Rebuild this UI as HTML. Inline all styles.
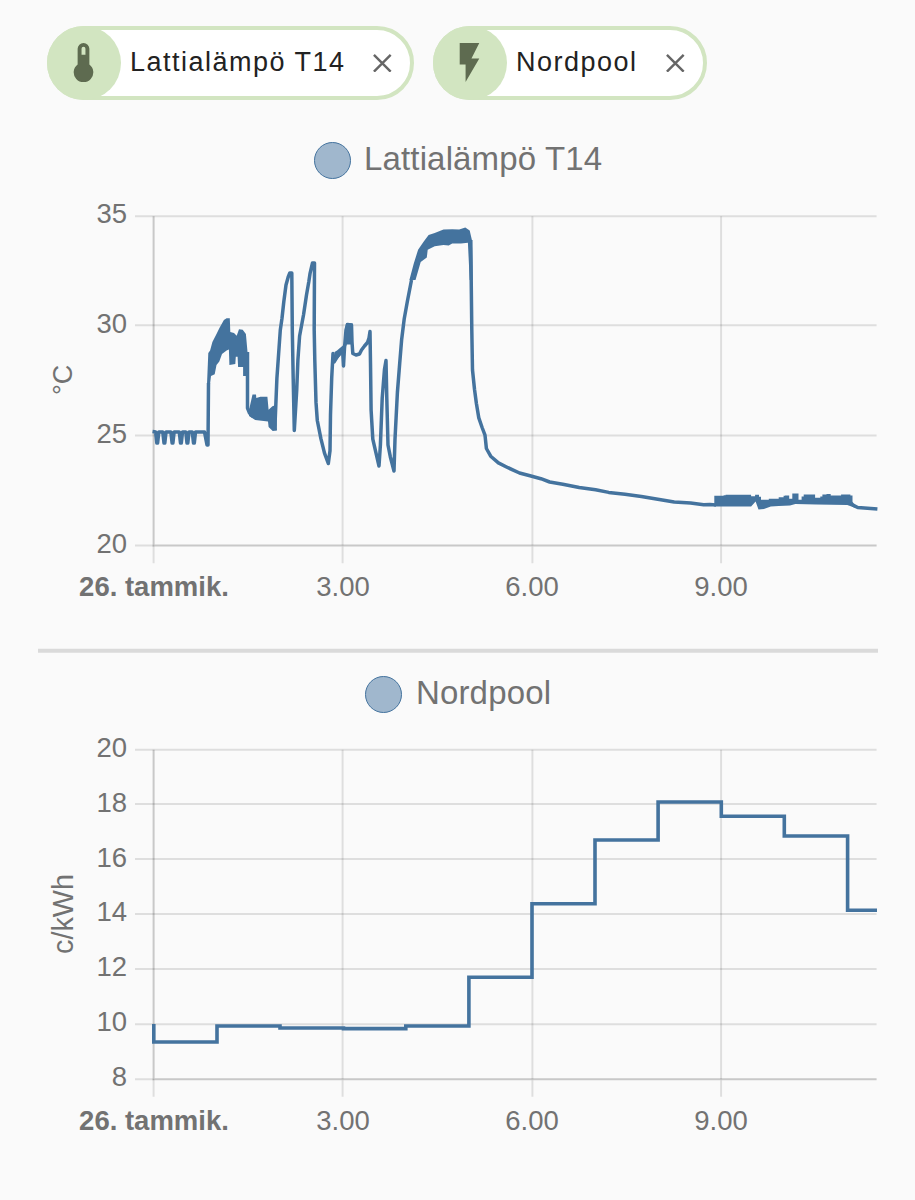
<!DOCTYPE html>
<html><head><meta charset="utf-8">
<style>
html,body{margin:0;padding:0;width:915px;height:1200px;overflow:hidden;background:#fafafa;font-family:"Liberation Sans",sans-serif;}
.chip{position:absolute;top:25.5px;height:74.5px;box-sizing:border-box;border:4px solid #d2e5c1;border-radius:38px;background:#fff;}
.chip .ic{position:absolute;left:-4px;top:-4px;width:74.3px;height:74.5px;border-radius:50%;background:#d2e5c1;}
.chip .ic svg{position:absolute;left:13.3px;top:13.8px;width:47px;height:47px;}
.chip .t{position:absolute;top:15.3px;font-size:27px;letter-spacing:1.5px;color:#222;line-height:35px;white-space:nowrap;}
.chip .x{position:absolute;top:24px;width:18.6px;height:18.6px;}
.lbl{position:absolute;font-size:27.5px;color:#727272;line-height:32px;white-space:nowrap;}
.yl{text-align:right;width:60px;}
.xl{text-align:center;width:200px;}
.leg{position:absolute;font-size:33px;letter-spacing:0.15px;color:#727272;line-height:38px;white-space:nowrap;}
.dot{position:absolute;width:37px;height:37px;box-sizing:border-box;border-radius:50%;background:#a0b7cd;border:1.8px solid #44739e;}
.rot{position:absolute;font-size:28px;color:#727272;line-height:32px;white-space:nowrap;transform:rotate(-90deg);transform-origin:0 0;}
svg.ov{position:absolute;left:0;top:0;}
</style></head><body>

<!-- chips -->
<div class="chip" style="left:47px;width:367px;">
  <div class="ic"><svg viewBox="0 0 24 24"><path fill="#5e6b50" d="M15 13V5A3 3 0 0 0 9 5V13A5 5 0 1 0 15 13M12 4A1 1 0 0 1 13 5V8H11V5A1 1 0 0 1 12 4Z"/></svg></div>
  <div class="t" style="left:79px;">Lattialämpö T14</div>
  <svg class="x" style="left:322px;" viewBox="0 0 20 20"><path d="M1 1L19 19M19 1L1 19" stroke="#666" stroke-width="2.6"/></svg>
</div>
<div class="chip" style="left:433px;width:274px;">
  <div class="ic"><svg viewBox="0 0 24 24"><path fill="#5e6b50" d="M7,2V13H10V22L17,10H13L17,2H7Z"/></svg></div>
  <div class="t" style="left:79px;">Nordpool</div>
  <svg class="x" style="left:229px;" viewBox="0 0 20 20"><path d="M1 1L19 19M19 1L1 19" stroke="#666" stroke-width="2.6"/></svg>
</div>

<!-- legends -->
<div class="dot" style="left:313.7px;top:142.2px;"></div>
<div class="leg" style="left:364px;top:140px;">Lattialämpö T14</div>
<div class="dot" style="left:365.2px;top:675.7px;"></div>
<div class="leg" style="left:416px;top:674px;">Nordpool</div>

<svg class="ov" width="915" height="1200" viewBox="0 0 915 1200">
  <g fill="none" stroke-width="2">
    <g stroke="rgba(0,0,0,0.11)">
    <path d="M135 216.2H876.6M135 325.3H876.6M135 435.5H876.6M135 545.5H153.6"/>
    <path d="M342.6 216.2V545.5M532.4 216.2V545.5M721.1 216.2V545.5M153.6 545.5V563.2M342.6 546.5V563.2M532.4 546.5V563.2M721.1 546.5V563.2"/>
    <path d="M135 749.84H876.6M135 804H876.6M135 859H876.6M135 914H876.6M135 969H876.6M135 1024.2H876.6M135 1079.2H153.6"/>
    <path d="M342.6 749.84V1079.2M532.4 749.84V1079.2M721.1 749.84V1079.2M153.6 1079.2V1096.7M342.6 1080.2V1096.7M532.4 1080.2V1096.7M721.1 1080.2V1096.7"/>
    </g>
    <g stroke="rgba(0,0,0,0.2)">
    <path d="M153.6 216.2V545.5M152.6 545.5H876.6"/>
    <path d="M153.6 749.84V1079.2M152.6 1079.2H876.6"/>
    </g>
  </g>
  <path d="M38 650.7H878" stroke="#dadada" stroke-width="4"/>
  <g id="l1"><path d="M152.5,431.5 L155.6,432.0 L156.8,443.0 L157.6,443.0 L158.8,432.0 L162.8,432.0 L164.0,443.0 L164.8,443.0 L166.0,432.0 L170.9,432.0 L172.1,443.0 L172.9,443.0 L174.1,432.0 L179.3,432.0 L180.5,443.0 L181.3,443.0 L182.5,432.0 L185.8,432.0 L187.0,443.0 L187.8,443.0 L189.0,432.0 L192.3,432.0 L193.5,443.0 L194.3,443.0 L195.5,432.0 L204.5,432.0 L207.0,445.0 L208.0,445.0 L208.5,383.0 M247.5,352.0 L247.5,408.0 L249.5,413.0 L253.0,416.5 M274.0,430.0 L275.0,425.0 L276.9,378.3 L280.3,330.0 L282.0,318.3 L283.8,301.7 L286.0,285.0 L288.2,277.0 L289.8,273.0 L291.8,273.0 L292.3,330.0 L293.2,378.3 L294.3,430.5 L296.7,390.4 L297.9,360.2 L299.6,336.0 L303.5,315.0 L306.5,295.0 L308.8,281.7 L310.0,273.7 L312.5,263.0 L314.5,263.0 L314.2,330.0 L314.8,360.2 L316.0,402.4 L317.3,420.5 L320.9,438.7 L324.5,453.1 L328.3,463.5 L330.0,450.7 L330.5,414.5 L331.7,378.3 L333.0,353.5 L334.0,362.0 L337.0,357.0 L340.5,351.5 L342.5,349.0 L343.5,366.0 L344.5,348.0 L346.0,330.0 L347.5,324.5 L351.5,325.0 L352.0,342.0 L352.8,353.5 L356.0,355.0 L359.5,354.0 L361.5,350.0 L364.5,346.0 L367.5,342.5 L369.0,338.0 L370.0,331.5 L370.5,363.3 L371.1,410.0 L372.8,439.2 L376.3,454.4 L379.0,466.0 L380.4,445.0 L382.2,398.4 L384.5,369.2 L386.0,360.5 L386.8,398.4 L388.0,445.0 L390.3,456.7 L394.0,471.0 L395.0,439.2 L397.4,392.5 L399.7,363.3 L401.6,340.0 L404.2,319.0 L407.3,301.7 L411.5,280.0 M470.8,240.0 L471.2,280.0 L471.8,330.0 L472.5,370.0 L474.5,389.2 L476.4,403.5 L478.8,417.9 L482.1,427.5 L485.0,435.1 L486.4,448.5 L490.7,456.2 L498.4,462.9 L508.0,467.7 L519.5,473.0 L530.0,475.8 L540.9,478.7 L549.7,482.0 L562.8,484.2 L579.2,487.5 L595.6,489.7 L608.7,492.4 L625.0,494.3 L641.4,496.5 L657.8,499.2 L674.2,501.9 L690.6,503.0 L703.7,504.7 L709.8,504.6 L716.0,505.1 M851.0,503.0 L853.5,505.4 L857.7,507.5 L877.4,509.1" stroke="#44739e" stroke-width="3.5" fill="none" stroke-linejoin="round"/><path d="M207.0,384.0 L208.3,353.0 L210.1,350.4 L212.4,342.1 L216.5,333.9 L219.3,328.3 L223.9,320.1 L226.6,318.3 L229.8,318.3 L230.3,332.0 L234.0,333.0 L236.7,335.7 L239.0,329.3 L242.7,329.7 L245.9,333.9 L247.7,354.0 L248.2,374.2 L246.0,376.0 L243.1,376.0 L243.1,366.9 L238.1,366.9 L237.6,356.8 L235.8,356.8 L235.3,364.1 L229.4,365.0 L228.9,349.4 L226.6,350.4 L222.0,354.0 L219.3,361.4 L216.5,365.0 L214.7,374.2 L211.0,376.0 L210.1,383.4Z M249.0,410.0 L252.5,394.5 L256.0,394.5 L256.3,398.0 L260.4,396.8 L267.4,396.8 L268.6,409.7 L272.4,406.2 L276.0,405.0 L277.0,430.5 L272.7,431.0 L268.6,427.0 L268.0,421.5 L255.2,420.0 L249.0,416.0Z M409.4,280.0 L413.7,263.7 L418.1,249.7 L423.4,241.9 L428.6,234.9 L434.7,233.1 L443.5,229.6 L452.2,229.2 L459.2,229.6 L465.3,227.4 L469.7,230.5 L471.9,240.1 L472.7,280.0 L469.7,280.0 L467.9,242.7 L460.9,243.6 L452.2,243.6 L448.7,245.4 L443.5,244.9 L434.7,246.2 L427.7,249.7 L426.8,257.6 L420.7,262.0 L415.5,280.0Z M714.3,495.7 L723.6,495.7 L723.6,495.2 L725.6,495.2 L725.6,494.7 L743.3,494.7 L743.3,494.7 L751.1,494.7 L751.1,496.2 L755.1,496.2 L755.1,494.7 L759.0,494.7 L759.0,496.7 L761.0,496.7 L761.0,499.7 L768.8,499.7 L768.8,498.7 L778.7,498.7 L778.7,497.2 L783.6,497.2 L783.6,495.7 L785.0,495.7 L785.0,495.6 L789.2,495.6 L789.2,498.7 L792.3,498.7 L792.3,493.5 L796.4,493.5 L796.4,493.5 L798.5,493.5 L798.5,499.7 L801.6,499.7 L801.6,496.6 L803.7,496.6 L803.7,494.5 L813.0,494.5 L813.0,494.5 L815.1,494.5 L815.1,497.7 L820.3,497.7 L820.3,496.6 L822.4,496.6 L822.4,494.5 L826.5,494.5 L826.5,494.0 L830.7,494.0 L830.7,495.6 L841.1,495.6 L841.1,494.5 L845.2,494.5 L845.2,494.5 L850.4,494.5 L850.4,495.6 L852.5,495.6 L852.5,502.8 L855.6,508.0 L847.3,504.9 L816.2,504.4 L795.4,503.9 L790.0,505.6 L778.7,506.1 L770.8,506.5 L763.9,509.0 L758.5,509.5 L755.6,501.6 L751.1,506.5 L714.3,506.5Z M334.5,352.0 L337.0,350.6 L340.5,347.5 L343.5,345.0 L344.3,344.0 L345.2,330.0 L346.0,323.0 L352.8,323.5 L353.0,344.0 L350.5,344.6 L346.8,344.6 L343.5,352.0 L340.5,355.8 L337.0,359.6 L334.5,362.0Z" fill="#44739e" stroke="none"/></g>
  <path id="l2" stroke="#44739e" stroke-width="3.6" fill="none" d="M153.8 1024V1042H217V1026H280V1028H343.5V1028.6H405.8V1026H468.9V977.3H532V903.8H595V840H658.1V802H721.3V816.2H784.3V836H847.6V910.2H877"/>
</svg>

<!-- chart1 labels -->
<div class="lbl yl" style="left:67px;top:198px;">35</div>
<div class="lbl yl" style="left:67px;top:308px;">30</div>
<div class="lbl yl" style="left:67px;top:418px;">25</div>
<div class="lbl yl" style="left:67px;top:528px;">20</div>
<div class="rot" style="left:46.5px;top:395px;font-size:27px;">°C</div>
<div class="lbl xl" style="left:54px;top:570.8px;font-weight:bold;">26. tammik.</div>
<div class="lbl xl" style="left:243px;top:570.8px;">3.00</div>
<div class="lbl xl" style="left:432px;top:570.8px;">6.00</div>
<div class="lbl xl" style="left:621px;top:570.8px;">9.00</div>

<!-- chart2 labels -->
<div class="lbl yl" style="left:67px;top:732px;">20</div>
<div class="lbl yl" style="left:67px;top:787px;">18</div>
<div class="lbl yl" style="left:67px;top:842px;">16</div>
<div class="lbl yl" style="left:67px;top:896px;">14</div>
<div class="lbl yl" style="left:67px;top:951px;">12</div>
<div class="lbl yl" style="left:67px;top:1006px;">10</div>
<div class="lbl yl" style="left:67px;top:1061px;">8</div>
<div class="rot" style="left:46.5px;top:953.5px;font-size:28.8px;">c/kWh</div>
<div class="lbl xl" style="left:54px;top:1104.8px;font-weight:bold;">26. tammik.</div>
<div class="lbl xl" style="left:243px;top:1104.8px;">3.00</div>
<div class="lbl xl" style="left:432px;top:1104.8px;">6.00</div>
<div class="lbl xl" style="left:621px;top:1104.8px;">9.00</div>

</body></html>
